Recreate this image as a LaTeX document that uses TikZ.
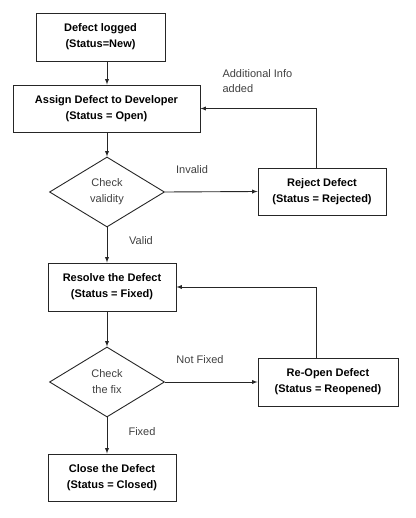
\documentclass[tikz,border=0pt]{standalone}
\usepackage{fontspec}
\setmainfont{Liberation Sans}
\usepackage{xcolor}
\usetikzlibrary{shapes,arrows,positioning}

\begin{document}
\begin{tikzpicture}[x=1pt,y=-1pt]

\tikzset{stepbox/.style={draw=black!85, line width=0.9pt, rectangle, align=center, inner sep=0pt,
    font=\bfseries\fontsize{11}{16}\selectfont},
  check/.style={draw=black!85, line width=0.9pt, diamond, aspect=1.64, align=center, inner sep=0pt,
    minimum width=115pt, minimum height=70pt, font=\fontsize{11}{16}\selectfont, text=black!75},
  lbl/.style={font=\fontsize{11}{15}\selectfont, text=black!75},
  flow/.style={draw=black!85, line width=0.9pt, -latex}}

\useasboundingbox (0,0) rectangle (415,518);

% boxes
\node[stepbox, minimum width=129pt, minimum height=48pt] (logged) at (100.5,37) {Defect logged\\(Status=New)};
\node[stepbox, minimum width=187pt, minimum height=47pt] (assign) at (106.5,108.5) {Assign Defect to Developer\\(Status = Open)};
\node[check] (validity) at (107,192) {Check\\validity};
\node[stepbox, minimum width=128pt, minimum height=47pt] (reject) at (322,191.5) {Reject Defect\\(Status = Rejected)};
\node[stepbox, minimum width=128pt, minimum height=48pt] (resolve) at (112,287) {Resolve the Defect\\(Status = Fixed)};
\node[check] (fix) at (107,382) {Check\\the fix};
\node[stepbox, minimum width=140pt, minimum height=48pt] (reopen) at (328,382) {Re-Open Defect\\(Status = Reopened)};
\node[stepbox, minimum width=128pt, minimum height=47pt] (close) at (112,477.5) {Close the Defect\\(Status = Closed)};

% labels
\node[lbl, align=left, anchor=west] (info) at (219,81) {Additional Info\\added};
\node[lbl] (invalid) at (192,170) {Invalid};
\node[lbl] (valid) at (141,241) {Valid};
\node[lbl] (notfixed) at (200,360) {Not Fixed};
\node[lbl] (fixed) at (142,432) {Fixed};

% arrows
\draw[flow] (logged.south -| validity) -- (assign.north -| validity);
\draw[flow] (assign.south -| validity) -- (validity.north);
\draw[flow] (validity.east) -- (reject.west);
\draw[flow] ([xshift=-6pt]reject.north) |- (assign.east);
\draw[flow] (validity.south) -- (resolve.north -| validity);
\draw[flow] (resolve.south -| fix) -- (fix.north);
\draw[flow] (fix.east) -- (reopen.west);
\draw[flow] ([xshift=-12pt]reopen.north) |- (resolve.east);
\draw[flow] (fix.south) -- (close.north -| fix);

\end{tikzpicture}
\end{document}
